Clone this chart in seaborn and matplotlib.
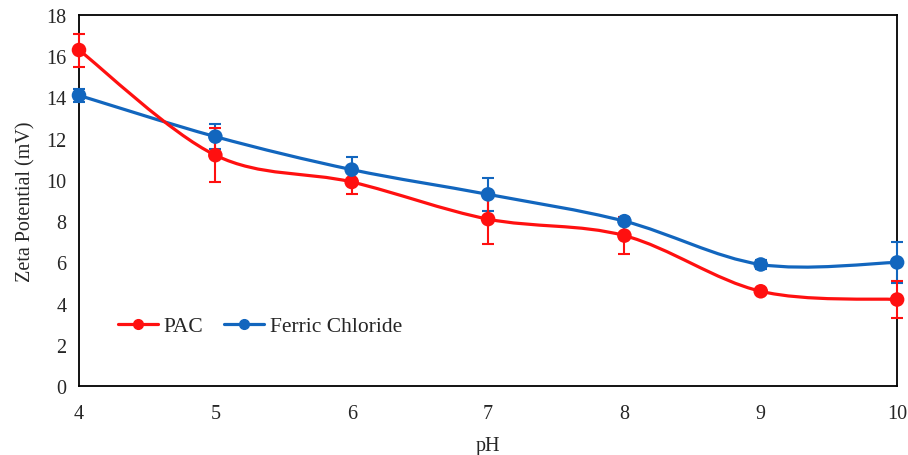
import numpy as np
import pandas as pd
import seaborn as sns
import matplotlib.pyplot as plt
from matplotlib.path import Path
from matplotlib.patches import PathPatch
from matplotlib.lines import Line2D

ph = [4, 5, 6, 7, 8, 9, 10]
pac = [16.3, 11.2, 9.9, 8.1, 7.3, 4.6, 4.2]
pac_err = [0.8, 1.3, 0.6, 1.2, 0.9, 0.1, 0.9]
ferric = [14.1, 12.1, 10.5, 9.3, 8.0, 5.9, 6.0]
ferric_err = [0.3, 0.6, 0.6, 0.8, 0.1, 0.2, 1.0]

red = '#FF1010'
blue = '#1266BE'

sns.set_style('white')
plt.rcParams['font.family'] = ['Liberation Serif', 'DejaVu Serif']

df = pd.DataFrame({'pH': ph * 2,
                   'zeta': pac + ferric,
                   'series': ['PAC'] * len(ph) + ['Ferric Chloride'] * len(ph)})

f = plt.figure(figsize=(9.08, 4.56), dpi=100)
ax = f.add_axes([0.087, 0.151, 0.901, 0.814])


def smooth_path(x, y):
    # excel style smoothed line: cubic bezier through the points
    x = np.asarray(x, float)
    y = np.asarray(y, float)
    verts = [(x[0], y[0])]
    codes = [Path.MOVETO]
    n = len(x)
    for i in range(n - 1):
        p0 = i - 1 if i > 0 else i
        p3 = i + 2 if i + 2 < n else i + 1
        c1 = (x[i] + (x[i + 1] - x[p0]) / 6, y[i] + (y[i + 1] - y[p0]) / 6)
        c2 = (x[i + 1] - (x[p3] - x[i]) / 6, y[i + 1] - (y[p3] - y[i]) / 6)
        verts += [c1, c2, (x[i + 1], y[i + 1])]
        codes += [Path.CURVE4] * 3
    return Path(verts, codes)


for vals, err, col in [(ferric, ferric_err, blue), (pac, pac_err, red)]:
    ax.add_patch(PathPatch(smooth_path(ph, vals), facecolor='none',
                           edgecolor=col, lw=2.3, zorder=2, clip_on=False))
    eb = ax.errorbar(ph, vals, yerr=err, fmt='none', ecolor=col, elinewidth=1.5,
                     capsize=4, capthick=1.5, zorder=3)
    for a in eb.lines[1] + eb.lines[2]:
        a.set_clip_on(False)

sns.scatterplot(df, x='pH', y='zeta', hue='series',
                palette={'PAC': red, 'Ferric Chloride': blue},
                s=110, edgecolor='none', ax=ax, zorder=4, legend=False,
                clip_on=False)

ax.set_xlim(4, 10)
ax.set_ylim(0, 18)
ax.set_xticks(ph)
ax.set_yticks(range(0, 19, 2))
ax.tick_params(axis='x', length=0, labelsize=14.5, pad=13)
ax.tick_params(axis='y', length=0, labelsize=14.5, pad=9)
ax.set_xlabel('pH', fontsize=14.5, labelpad=9)
ax.set_ylabel('Zeta Potential (mV)', fontsize=14.5, labelpad=8)
for s in ax.spines.values():
    s.set_visible(True)
    s.set_color('black')
    s.set_linewidth(1.3)

handles = [Line2D([], [], color=red, lw=2.3, marker='o', markersize=7),
           Line2D([], [], color=blue, lw=2.3, marker='o', markersize=7)]
ax.legend(handles, ['PAC', 'Ferric Chloride'], ncol=2, frameon=False,
          loc='center left', bbox_to_anchor=(0.024, 0.162), fontsize=15.5,
          handlelength=1.85, columnspacing=1.0, handletextpad=0.25)

f.savefig('out.png', dpi=100)
